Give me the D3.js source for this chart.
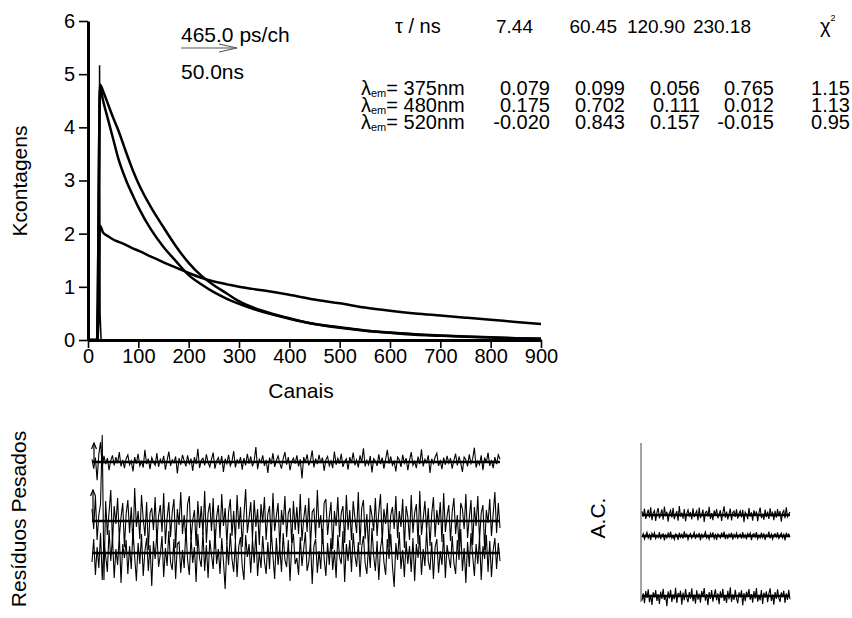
<!DOCTYPE html>
<html>
<head>
<meta charset="utf-8">
<script src="https://cdn.jsdelivr.net/npm/d3@7"></script>
<style>
  body { margin: 0; background: #fff; }
  svg text { font-family: "Liberation Sans", Arial, sans-serif; fill: #000; }
</style>
</head>
<body>
<svg id="chart" width="852" height="618"></svg>
<script>
// decaimentos (Kcontagens)
const channels = [0, 18, 24, 30, 40, 50, 60, 75, 90, 100, 125, 150, 175, 200, 225, 250, 275, 300, 350, 400, 450, 500, 550, 600, 650, 700, 750, 800, 850, 900];
const decay375 = [0, 0, 2.15, 2.02, 1.95, 1.89, 1.85, 1.79, 1.72, 1.68, 1.57, 1.46, 1.36, 1.26, 1.17, 1.10, 1.05, 1.00, 0.93, 0.85, 0.76, 0.69, 0.61, 0.55, 0.50, 0.46, 0.42, 0.38, 0.34, 0.30];
const decay480 = [0, 0, 4.75, 4.50, 4.14, 3.78, 3.42, 3.02, 2.70, 2.50, 2.08, 1.75, 1.48, 1.22, 1.05, 0.90, 0.78, 0.68, 0.52, 0.40, 0.30, 0.23, 0.175, 0.135, 0.10, 0.08, 0.06, 0.045, 0.033, 0.022];
const decay520 = [0, 0, 4.80, 4.68, 4.43, 4.18, 3.95, 3.55, 3.17, 2.95, 2.50, 2.12, 1.76, 1.45, 1.21, 1.03, 0.88, 0.73, 0.54, 0.41, 0.30, 0.24, 0.18, 0.14, 0.11, 0.085, 0.065, 0.05, 0.035, 0.025];
const irfChannels = [0, 20, 22, 23, 24, 26, 30];
const irfValues = [0, 0, 0.4, 5.17, 0.5, 0, 0];

const yTicks = [0, 1, 2, 3, 4, 5, 6];
const xTicks = [0, 100, 200, 300, 400, 500, 600, 700, 800, 900];

// tabela de ajuste
const tauHeader = ["7.44", "60.45", "120.90", "230.18"];
const emWavelengths = ["375nm", "480nm", "520nm"];
const amplitudes = [
  ["0.079", "0.099", "0.056", "0.765"],
  ["0.175", "0.702", "0.111", "0.012"],
  ["-0.020", "0.843", "0.157", "-0.015"]
];
const chiSquared = ["1.15", "1.13", "0.95"];

// resíduos pesados, em décimos de sigma
const resid1 = [5,-12,8,-33,14,36,-9,11,-4,7,-15,3,12,-6,9,-2,18,-8,4,-11,6,13,-5,2,-17,9,-3,15,-7,1,
  -10,22,-4,6,-13,8,0,-6,16,-9,5,-2,11,-14,3,19,-7,4,-1,10,-21,7,-5,13,2,-8,12,-3,6,-16,
  9,-4,24,-11,3,7,-6,14,-1,-9,5,17,-12,2,8,-5,11,-18,6,-3,13,-7,1,20,-10,4,-2,9,-14,7,
  -6,15,-3,10,-8,2,27,-13,5,-1,12,-7,4,-20,8,-4,16,-9,3,11,-2,-12,6,18,-5,9,-15,1,7,-3,
  12,-8,5,-30,9,-1,14,-6,3,21,-10,6,-4,13,-2,8,-16,4,10,-7,2,-11,19,-5,7,-3,15,-9,1,6,
  -14,9,-2,17,-6,4,-10,12,-1,25,-8,3,-5,11,-19,6,2,-7,14,-4,8,-12,5,22,-3,10,-6,1,-17,9,
  4,-9,13,-2,7,-15,3,18,-6,1,-11,10,-4,23,-8,5,-1,12,-20,6,-3,9,16,-7,2,-13,8,-5,11,-2,
  7,-12,3,15,-6,10,-2,-18,9,4,-8,14,-3,6,26,-10,2,-5,12,-15,8,-1,17,-7,4,-11,9,-4,13,5];
const resid2 = [12,-8,25,-19,6,17,86,-59,20,-14,9,31,-22,15,-3,23,-17,4,18,-26,7,21,-12,14,-24,33,-6,10,-18,26,
  2,-15,19,-29,8,13,-9,24,-21,5,16,-11,28,-23,3,19,-16,9,22,-27,12,-4,29,-13,6,-20,17,25,-19,1,
  11,-25,20,-7,15,-14,30,-22,8,18,-10,23,-28,4,16,-17,27,-5,13,-23,9,22,-15,10,-20,26,-8,14,-26,6,
  32,-12,3,19,-18,21,-6,12,-24,17,-2,24,-19,7,15,-21,28,-10,5,18,-27,11,-4,25,-16,8,13,-22,20,-9,
  14,-13,27,-20,2,16,-11,23,-25,9,12,-17,31,-7,6,-23,18,22,-14,4,19,-28,10,-5,24,-16,8,15,-22,26,
  -9,11,-19,20,3,-12,29,-24,13,21,-18,7,-30,16,5,-10,23,-15,9,27,-21,12,-3,18,-26,6,14,-8,25,-17,
  10,-6,22,-27,15,4,-19,26,-12,8,17,-23,30,-14,2,20,-9,13,-25,7,24,-16,11,-4,19,-21,28,-11,5,16,
  -20,9,23,-13,6,-26,18,12,-8,27,-17,3,21,-24,14,-5,25,-19,8,16,-29,11,-2,22,-15,7,29,-12,18,-7];
const resid3 = [-9,14,-22,6,-15,20,-27,11,-3,-19,23,-8,16,-25,4,-12,18,-30,9,-5,13,-21,7,-16,24,-4,-28,10,-11,19,
  -23,2,15,-18,8,-33,12,-6,21,-14,-2,17,-24,5,-13,22,-9,-17,14,-26,9,11,-20,3,-15,25,-7,-22,16,-10,
  6,-29,19,-5,-14,21,-18,8,-25,13,-2,-16,24,-11,4,-21,15,-8,-36,10,-12,20,-6,-19,12,-24,7,16,-13,-27,
  18,-4,9,-20,14,-10,22,-23,1,-15,17,-8,-21,11,-16,23,-3,-26,15,-12,6,-19,20,-7,-14,13,-28,8,19,-11,
  -5,-22,16,-13,4,21,-18,-9,12,-31,7,14,-20,2,-16,24,-6,-23,10,-12,15,-17,3,-25,18,-4,-11,22,-29,9,
  -8,13,-19,20,-2,-14,11,-24,6,17,-10,-21,8,-15,25,-3,-18,12,-27,5,16,-9,-22,14,-6,19,-13,-34,10,-7,
  21,-16,3,-24,12,-11,7,-19,15,-28,9,-5,18,-22,4,-13,23,-8,-17,11,-26,6,14,-20,2,-12,19,-25,8,-4,
  -15,17,-10,-21,13,-7,24,-18,5,-30,11,-14,20,-3,-23,9,-11,16,-27,7,-6,18,-19,12,-24,3,15,-16,10,-8];

// autocorrelação dos resíduos, em décimos
const ac1 = [12,-5,21,-13,4,18,-9,26,-17,7,15,-20,9,23,-11,3,19,-16,28,-4,11,-22,6,16,-8,24,-14,2,13,-19,
  30,-6,8,-12,20,-21,5,17,-3,10,-15,22,-7,4,14,-18,25,-10,1,18,-23,9,12,-5,27,-13,6,-17,15,-2,
  20,-11,3,16,-20,7,29,-9,11,-15,4,21,-18,8,13,-6,19,-12,5,14,-8,17,-24,10,2,-14,23,-5,9,-19,
  16,-3,12,-21,6,25,-10,4,-16,18,-7,11,-13,22,-1,8,-17,14,-9,20,-4,13,-22,7,15,-11,26,-6,3,10];
const ac2 = [-6,13,-18,4,20,-11,7,-23,15,-2,19,-14,3,-9,22,-17,8,12,-25,5,-10,16,-4,24,-13,1,-19,11,6,-21,
  18,-7,9,-15,26,-3,10,-20,4,14,-12,2,21,-16,8,-5,17,-24,13,-8,6,23,-11,3,-18,15,-2,20,-14,7,
  -22,12,4,-10,19,-6,25,-17,5,-13,11,-4,18,-20,9,-7,16,-12,2,10,-15,21,-9,6,-19,14,-1,17,-23,8,
  13,-5,22,-16,3,-11,19,-8,15,-21,7,-3,24,-13,10,-18,5,12,-6,20,-14,1,16,-10,9,-24,18,-2,11,-7];
const ac3 = [-14,8,-22,15,-6,20,-19,3,-27,11,-4,18,-15,6,-24,13,-9,22,-12,2,-31,14,-7,19,-18,5,-10,25,-21,9,
  -3,16,-26,10,-13,21,-5,-19,12,-8,23,-16,4,-23,17,-11,7,-20,15,-2,24,-14,6,-28,12,-9,18,-17,3,20,
  -13,8,-25,14,-6,22,-15,1,-21,16,-10,26,-18,5,-12,19,-7,-22,11,-4,17,-29,9,-16,13,-3,21,-11,6,-20,
  15,-8,24,-17,2,-13,18,-24,10,-5,14,-19,7,23,-15,4,-26,12,-9,20,-6,-18,11,-3,16,-21,8,-12,19,-10];

const svg = d3.select("#chart");

function drawDecays() {
  const x = d3.scaleLinear().domain([0, 900]).range([88, 541]);
  const y = d3.scaleLinear().domain([0, 6]).range([340, 21]);
  const line = d3.line().x(d => x(d[0])).y(d => y(d[1])).curve(d3.curveMonotoneX);

  [decay375, decay480, decay520].forEach(vals => {
    svg.append("path")
      .attr("d", line(d3.zip(channels, vals)))
      .attr("fill", "none").attr("stroke", "#000").attr("stroke-width", 2.5)
      .attr("stroke-linejoin", "round");
  });
  svg.append("path")
    .attr("d", d3.line().x(d => x(d[0])).y(d => y(d[1]))(d3.zip(irfChannels, irfValues)))
    .attr("fill", "none").attr("stroke", "#000").attr("stroke-width", 1.5);

  const gy = svg.append("g").attr("transform", "translate(88,0)")
    .call(d3.axisLeft(y).tickValues(yTicks).tickFormat(d3.format("d"))
      .tickSize(9).tickSizeOuter(0).tickPadding(4));
  const gx = svg.append("g").attr("transform", "translate(0,340)")
    .call(d3.axisBottom(x).tickValues(xTicks).tickFormat(d3.format("d"))
      .tickSize(8).tickSizeOuter(0).tickPadding(1));
  [gy, gx].forEach(g => {
    g.select(".domain").attr("stroke-width", 3);
    g.selectAll(".tick line").attr("stroke-width", 1.6);
    g.selectAll(".tick text").style("font-size", "20px").attr("fill", "#000")
      .style("font-family", "'Liberation Sans', Arial, sans-serif");
  });

  svg.append("text").attr("x", 301).attr("y", 398).attr("text-anchor", "middle")
    .style("font-size", "21px").text("Canais");
  svg.append("text").attr("transform", "translate(27,181) rotate(-90)")
    .attr("text-anchor", "middle").style("font-size", "21px").text("Kcontagens");
}

function drawHeader() {
  svg.append("text").attr("x", 181).attr("y", 42).style("font-size", "21px").text("465.0 ps/ch");
  svg.append("text").attr("x", 181).attr("y", 79).style("font-size", "21px").text("50.0ns");
  const arrow = svg.append("g").attr("stroke", "#555").attr("stroke-width", 1.2).attr("fill", "none");
  arrow.append("line").attr("x1", 181).attr("y1", 48).attr("x2", 237).attr("y2", 48);
  arrow.append("polyline").attr("points", "219,44 237,48 219,52");

  const fs = "20px";
  svg.append("text").attr("x", 395).attr("y", 33).style("font-size", fs).text("τ / ns");
  const headEnds = [533, 617, 685, 751];
  tauHeader.forEach((t, i) => {
    svg.append("text").attr("x", headEnds[i]).attr("y", 33).attr("text-anchor", "end")
      .style("font-size", "19px").text(t);
  });
  const chi = svg.append("text").attr("x", 820).attr("y", 33).style("font-size", fs).text("χ");
  chi.append("tspan").attr("dy", -12).style("font-size", "9px").text("2");

  const rowY = [95, 112, 129];
  const colEnds = [550, 625, 700, 774];
  emWavelengths.forEach((w, r) => {
    const t = svg.append("text").attr("x", 361).attr("y", rowY[r]).style("font-size", fs).text("λ");
    t.append("tspan").attr("dy", 2).style("font-size", "11px").text("em");
    t.append("tspan").attr("dy", -2).text("= " + w);
    amplitudes[r].forEach((a, c) => {
      svg.append("text").attr("x", colEnds[c]).attr("y", rowY[r]).attr("text-anchor", "end")
        .style("font-size", fs).text(a);
    });
    svg.append("text").attr("x", 850).attr("y", rowY[r]).attr("text-anchor", "end")
      .style("font-size", fs).text(chiSquared[r]);
  });
}

// traço de ruído com a linha de zero
function drawTrace(vals, x0, x1, base, pxPerSigma) {
  const x = d3.scaleLinear().domain([0, vals.length - 1]).range([x0, x1]);
  const y = d3.scaleLinear().domain([-10, 10]).range([base + pxPerSigma, base - pxPerSigma]);
  svg.append("line").attr("x1", x0).attr("x2", x1).attr("y1", base).attr("y2", base)
    .attr("stroke", "#000").attr("stroke-width", 2.5);
  svg.append("path")
    .attr("d", d3.line().x((d, i) => x(i)).y(d => y(d))(vals))
    .attr("fill", "none").attr("stroke", "#000").attr("stroke-width", 1.1);
}

function drawResiduals() {
  drawTrace(resid1, 92, 500, 462, 5.5);
  drawTrace(resid2, 92, 500, 521, 10);
  drawTrace(resid3, 92, 500, 553, 10);

  const arr = svg.append("g").attr("stroke", "#000").attr("stroke-width", 1.2).attr("fill", "none");
  [[94, 462, 443], [93, 521, 490]].forEach(([ax, yb, yt]) => {
    arr.append("line").attr("x1", ax).attr("x2", ax).attr("y1", yb).attr("y2", yt);
    arr.append("polyline").attr("points", `${ax - 2.5},${yt + 6} ${ax},${yt} ${ax + 2.5},${yt + 6}`);
  });

  svg.append("text").attr("transform", "translate(26,519) rotate(-90)")
    .attr("text-anchor", "middle").style("font-size", "21px").text("Resíduos Pesados");
}

function drawAutocorr() {
  svg.append("line").attr("x1", 641).attr("x2", 641).attr("y1", 443).attr("y2", 602)
    .attr("stroke", "#666").attr("stroke-width", 1.2);
  drawTrace(ac1, 642, 790, 515, 3);
  drawTrace(ac2, 642, 790, 536, 1.8);
  drawTrace(ac3, 642, 790, 596, 3.3);
  svg.append("text").attr("transform", "translate(605,518) rotate(-90)")
    .attr("text-anchor", "middle").style("font-size", "21px").text("A.C.");
}

drawDecays();
drawHeader();
drawResiduals();
drawAutocorr();
</script>
</body>
</html>
